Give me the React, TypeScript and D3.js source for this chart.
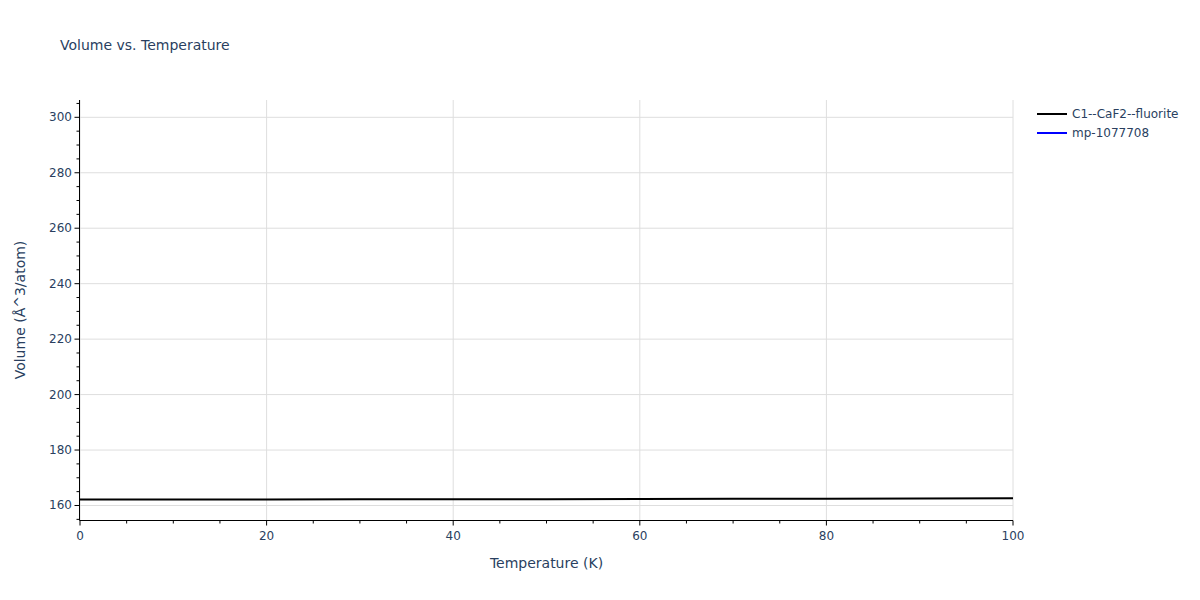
import React from "react";
import * as d3 from "d3";

const temperatures = [0, 10, 20, 30, 40, 50, 60, 70, 80, 90, 100];
const volumeC1 = [162.15, 162.16, 162.18, 162.21, 162.25, 162.29, 162.34, 162.4, 162.46, 162.53, 162.6];
const temperaturesMp: number[] = [];
const volumeMp: number[] = [];
const xTicks = [0, 20, 40, 60, 80, 100];
const yTicks = [160, 180, 200, 220, 240, 260, 280, 300];
const seriesNames = ["C1--CaF2--fluorite", "mp-1077708"];
const seriesColors = ["#000000", "#0000ff"];

const W = 1200;
const H = 600;
const M = { l: 80, r: 187, t: 100, b: 80 };
const FONT = '"DejaVu Sans", verdana, arial, sans-serif';
const TXT = "#2a3f5f";

export default function App() {
  const x = d3.scaleLinear().domain([0, 100]).range([M.l, W - M.r]);
  const y = d3.scaleLinear().domain([154.77, 306.24]).range([H - M.b, M.t]);
  const line = d3
    .line<[number, number]>()
    .x((d) => x(d[0]))
    .y((d) => y(d[1]));
  const c1 = temperatures.map((t, i) => [t, volumeC1[i]] as [number, number]);
  const mp = temperaturesMp.map((t, i) => [t, volumeMp[i]] as [number, number]);
  const xMinor = d3.range(0, 101, 5).filter((v) => v % 20 !== 0);
  const yMinor = d3.range(155, 306, 5).filter((v) => v % 20 !== 0);
  const x0 = M.l - 0.5;
  const yb = H - M.b + 0.5;

  return (
    <div style={{ position: "fixed", left: 0, top: 0 }}>
      <svg width={W} height={H} style={{ display: "block", background: "#fff" }} fontFamily={FONT}>
        <text x={60} y={50} fontSize={14} fill={TXT}>
          Volume vs. Temperature
        </text>
        {xTicks.map((t) => (
          <line key={"gx" + t} x1={x(t)} x2={x(t)} y1={M.t} y2={H - M.b} stroke="#dedede" strokeWidth={1} />
        ))}
        {yTicks.map((t) => (
          <line key={"gy" + t} x1={M.l} x2={W - M.r} y1={y(t)} y2={y(t)} stroke="#dedede" strokeWidth={1} />
        ))}
        {mp.length > 0 && <path d={line(mp) ?? ""} fill="none" stroke={seriesColors[1]} strokeWidth={2} />}
        <path d={line(c1) ?? ""} fill="none" stroke={seriesColors[0]} strokeWidth={2} />
        <line x1={x0} x2={x0} y1={M.t} y2={yb} stroke="#000" strokeWidth={1} />
        <line x1={x0} x2={W - M.r} y1={yb} y2={yb} stroke="#000" strokeWidth={1} />
        {xTicks.map((t) => (
          <g key={"xt" + t}>
            <line x1={x(t)} x2={x(t)} y1={yb} y2={yb + 5} stroke="#000" />
            <text x={x(t)} y={540} fontSize={12} fill={TXT} textAnchor="middle">
              {t}
            </text>
          </g>
        ))}
        {xMinor.map((t) => (
          <line key={"xm" + t} x1={x(t)} x2={x(t)} y1={yb} y2={yb + 3} stroke="#000" />
        ))}
        {yTicks.map((t) => (
          <g key={"yt" + t}>
            <line x1={x0 - 5} x2={x0} y1={y(t)} y2={y(t)} stroke="#000" />
            <text x={72} y={y(t) + 4} fontSize={12} fill={TXT} textAnchor="end">
              {t}
            </text>
          </g>
        ))}
        {yMinor.map((t) => (
          <line key={"ym" + t} x1={x0 - 3} x2={x0} y1={y(t)} y2={y(t)} stroke="#000" />
        ))}
        <text x={(M.l + W - M.r) / 2} y={568} fontSize={14} fill={TXT} textAnchor="middle">
          Temperature (K)
        </text>
        <text
          transform={`translate(25,${(M.t + H - M.b) / 2}) rotate(-90)`}
          fontSize={14}
          fill={TXT}
          textAnchor="middle"
        >
          Volume (Å^3/atom)
        </text>
        {seriesNames.map((n, i) => (
          <g key={n} transform={`translate(1037,${114 + i * 19})`}>
            <line x1={0} x2={30} y1={0} y2={0} stroke={seriesColors[i]} strokeWidth={2} />
            <text x={35} y={4} fontSize={12} fill={TXT}>
              {n}
            </text>
          </g>
        ))}
      </svg>
    </div>
  );
}
